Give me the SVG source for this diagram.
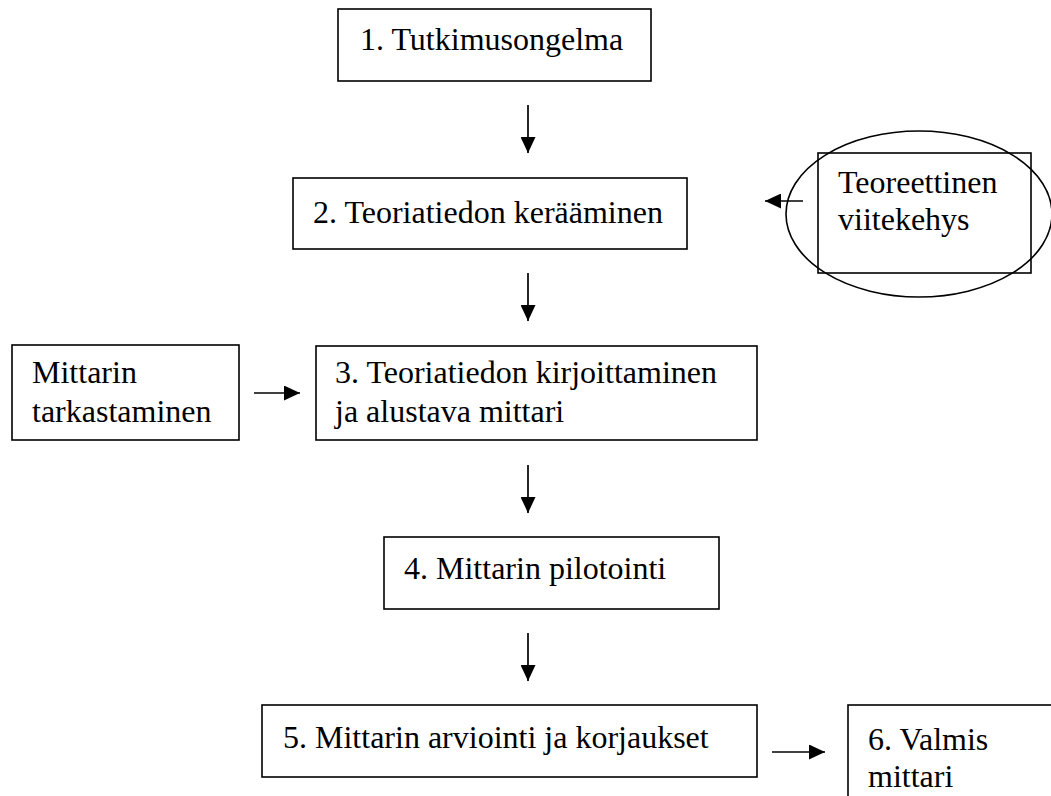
<svg xmlns="http://www.w3.org/2000/svg" width="1051" height="796" viewBox="0 0 1051 796">
<style>
.box{fill:#fff;stroke:#000;stroke-width:1.6}
.ell{fill:none;stroke:#000;stroke-width:1.6}
.t{font-family:'Liberation Serif',Tinos,'Times New Roman',Times,'DejaVu Serif',serif;font-size:32px;fill:#000}
.c{stroke:#000;stroke-width:1.7;fill:none;marker-end:url(#ah)}
</style>
<defs>
<marker id="ah" markerUnits="userSpaceOnUse" markerWidth="17" markerHeight="15" refX="16" refY="7.5" orient="auto">
<path d="M0,0 L16,7.5 L0,15 z" fill="#000"/>
</marker>
</defs>
<rect width="1051" height="796" fill="#fff"/>
<g id="n1"><rect class="box" x="338" y="9" width="313" height="72"/><text class="t" x="360" y="50">1. Tutkimusongelma</text></g>
<g id="n2"><rect class="box" x="293" y="178" width="394" height="71"/><text class="t" x="313" y="223">2. Teoriatiedon kerääminen</text></g>
<g id="nT"><rect class="box" x="818" y="153" width="213" height="120"/><ellipse class="ell" cx="919" cy="214" rx="133" ry="83"/><text class="t" x="838" y="193">Teoreettinen</text><text class="t" x="838" y="230">viitekehys</text></g>
<g id="nM"><rect class="box" x="12" y="345" width="227" height="95"/><text class="t" x="32" y="383">Mittarin</text><text class="t" x="32" y="422">tarkastaminen</text></g>
<g id="n3"><rect class="box" x="316" y="346" width="441" height="94"/><text class="t" x="335" y="383">3. Teoriatiedon kirjoittaminen</text><text class="t" x="335" y="422">ja alustava mittari</text></g>
<g id="n4"><rect class="box" x="384" y="537" width="335" height="72"/><text class="t" x="404" y="579">4. Mittarin pilotointi</text></g>
<g id="n5"><rect class="box" x="262" y="705" width="495" height="72"/><text class="t" x="283" y="748">5. Mittarin arviointi ja korjaukset</text></g>
<g id="n6"><rect class="box" x="848" y="705" width="220" height="110"/><text class="t" x="868" y="750">6. Valmis</text><text class="t" x="868" y="787">mittari</text></g>
<g id="connectors">
<line class="c" x1="528" y1="105" x2="528" y2="153"/>
<line class="c" x1="528" y1="273" x2="528" y2="321"/>
<line class="c" x1="803" y1="201" x2="765" y2="201"/>
<line class="c" x1="254" y1="393" x2="300" y2="393"/>
<line class="c" x1="528" y1="465" x2="528" y2="513"/>
<line class="c" x1="528" y1="633" x2="528" y2="681"/>
<line class="c" x1="772" y1="752" x2="825" y2="752"/>
</g>
</svg>
